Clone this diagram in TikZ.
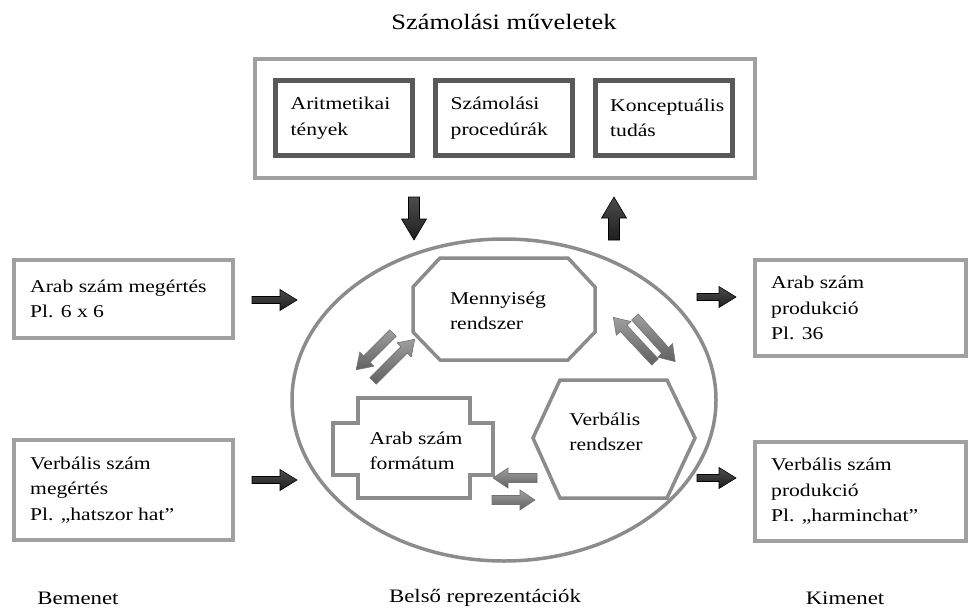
\documentclass[tikz,border=0pt]{standalone}
\usepackage{fontspec}
\setmainfont[FakeStretch=1.2]{Liberation Serif}
\usetikzlibrary{shapes.geometric}
\definecolor{boxgray}{HTML}{A0A0A0}
\definecolor{innergray}{HTML}{595959}
\definecolor{shapegray}{HTML}{8C8C8C}
\definecolor{darkarrow}{HTML}{333333}
\definecolor{lightarrow}{HTML}{848484}
\tikzset{
  pics/barrow/.style n args={4}{code={
    \path[pic actions] (0,-#2) -- (#1-#4,-#2) -- (#1-#4,-#3) -- (#1,0) -- (#1-#4,#3) -- (#1-#4,#2) -- (0,#2) -- cycle;
  }}
}
\begin{document}
\begin{tikzpicture}[x=1pt,y=-1pt,
  iobox/.style={draw=boxgray, line width=4pt, inner sep=0pt, fill=white},
  outerbox/.style={draw=boxgray, line width=4pt, inner sep=0pt, fill=white},
  opbox/.style={draw=innergray, line width=5pt, inner sep=0pt, fill=white, minimum width=137pt, minimum height=75pt},
  shapeline/.style={draw=shapegray, line width=3.5pt, fill=white, line join=miter},
  txt/.style={inner sep=0pt, align=left, font=\fontsize{18}{25.5}\selectfont},
  lbl/.style={inner sep=0pt, font=\fontsize{19}{23}\selectfont},
  darr/.style={top color=black!70, bottom color=black!88, draw=black, line width=0.6pt, line join=miter},
  garr/.style={top color=black!38, bottom color=black!62, draw=black!55, line width=0.6pt, line join=miter},
]
\useasboundingbox (0,0) rectangle (970,614);

% title
\node[lbl, font=\fontsize{22}{26}\selectfont] (title) at (504,22) {Számolási műveletek};

% top container
\node[outerbox, minimum width=500pt, minimum height=119pt] (ops) at (505,118.5) {};
\node[opbox] (ar) at (344,118) {};
\node[opbox] (sp) at (504,118) {};
\node[opbox] (kt) at (663.5,118) {};
\node[txt, anchor=west] (art) at ([xshift=17.5pt]ar.west) {Aritmetikai\\tények};
\node[txt, anchor=west] (spt) at ([xshift=17.5pt]sp.west) {Számolási\\procedúrák};
\node[txt, anchor=west] (ktt) at ([xshift=17.5pt]kt.west) {Konceptuális\\tudás};

% ellipse
\node[draw=shapegray, line width=3.5pt, ellipse, minimum width=424pt, minimum height=322pt, inner sep=0pt] (belso) at (504,400) {};

% inner shapes
\draw[shapeline] (413,287) -- (440,258) -- (568,258) -- (595,287) -- (595,332) -- (568,360) -- (440,360) -- (413,332) -- cycle;
\node[txt] (menny) at (498,311) {Mennyiség\\rendszer};

\draw[shapeline] (358,398) -- (470,398) -- (470,423) -- (493,423) -- (493,475) -- (470,475) -- (470,498) -- (358,498) -- (358,475) -- (333,475) -- (333,423) -- (358,423) -- cycle;
\node[txt] (arabf) at (416,451) {Arab szám\\formátum};

\draw[shapeline] (533,438) -- (560,380) -- (667,380) -- (695,438) -- (667,498) -- (560,498) -- cycle;
\node[txt] (verb) at (606,432) {Verbális\\rendszer};

% input boxes
\node[iobox, minimum width=219pt, minimum height=78pt] (in1) at (123.5,299) {};
\node[txt, anchor=west] (in1t) at ([xshift=18pt]in1.west) {Arab szám megértés\\Pl. 6 x 6};
\node[iobox, minimum width=219pt, minimum height=100pt] (in2) at (123.5,490) {};
\node[txt, anchor=west] (in2t) at ([xshift=18pt]in2.west) {Verbális szám\\megértés\\Pl. „hatszor hat”};

% output boxes
\node[iobox, minimum width=211pt, minimum height=96pt] (out1) at (860.5,308) {};
\node[txt, anchor=west] (out1t) at ([xshift=18pt]out1.west) {Arab szám\\produkció\\Pl. 36};
\node[iobox, minimum width=211pt, minimum height=99pt] (out2) at (860.5,491.5) {};
\node[txt, anchor=west] (out2t) at ([xshift=18pt]out2.west) {Verbális szám\\produkció\\Pl. „harminchat”};

% dark block arrows
\pic[darr] (a1) at (252,300) {barrow={45}{3.5}{10.5}{17}};
\pic[darr] (a2) at (252,480) {barrow={45}{3.5}{10.5}{17}};
\pic[darr] (a3) at (697,297) {barrow={39}{3.5}{10.5}{17}};
\pic[darr] (a4) at (697,478) {barrow={39}{3.5}{10.5}{17}};
\pic[darr, rotate=-90] (a5) at (414,197) {barrow={43}{5.5}{12.5}{21}};
\pic[darr, rotate=90] (a6) at (614,240) {barrow={43}{5.5}{12.5}{21}};

% grey double arrows
\pic[garr, rotate=45] (g1) at (373,381) {barrow={59}{4.5}{10}{15}};
\pic[garr, rotate=-135] (g2) at (393,333) {barrow={52}{4.5}{10}{15}};
\pic[garr, rotate=133] (g3) at (655,362) {barrow={61}{4.5}{10}{15}};
\pic[garr, rotate=-48] (g4) at (635,317) {barrow={60}{4.5}{10}{15}};
\pic[garr, rotate=180] (g5) at (537,478) {barrow={44}{4.5}{10}{15}};
\pic[garr] (g6) at (492,500) {barrow={43}{4.5}{10}{15}};

% bottom labels
\node[lbl] (bem) at (78,598) {Bemenet};
\node[lbl] (bel) at (485,598) {Belső reprezentációk};
\node[lbl] (kim) at (845,598) {Kimenet};
\end{tikzpicture}
\end{document}
